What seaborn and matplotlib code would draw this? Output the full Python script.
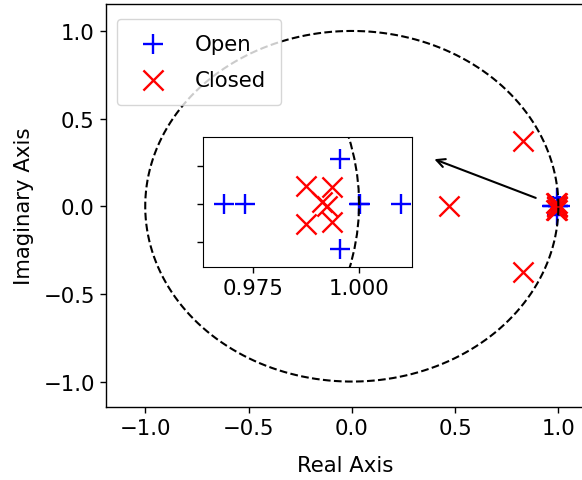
import numpy as np
import pandas as pd
import matplotlib
matplotlib.use("Agg")
import matplotlib.pyplot as plt
import seaborn as sns

# Open-loop poles (blue +)
open_re = [0.9681, 0.9730, 0.9955, 0.9955, 1.0000, 1.0003, 1.0099]
open_im = [0.0, 0.0, 0.0475, -0.0475, 0.0, 0.0, 0.0]
# Closed-loop poles (red x)
closed_re = [0.9875, 0.9935, 0.9912, 0.9925, 0.9875, 0.9935, 0.828, 0.828, 0.471]
closed_im = [0.0191, 0.0174, 0.0024, -0.0024, -0.0209, -0.0191, 0.374, -0.376, 0.0]

xticks = [-1.0, -0.5, 0.0, 0.5, 1.0]
yticks = [-1.0, -0.5, 0.0, 0.5, 1.0]
inset_xticks = [0.975, 1.000]
inset_yticks = [-0.04, 0.0, 0.04]

sns.set_style("white")
plt.rcParams['font.family'] = ['DejaVu Sans']
plt.rcParams['axes.edgecolor'] = 'black'
plt.rcParams['text.color'] = 'black'
plt.rcParams['axes.labelcolor'] = 'black'
plt.rcParams['xtick.bottom'] = True
plt.rcParams['ytick.left'] = True

FS = 15.3

df_open = pd.DataFrame({"re": open_re, "im": open_im})
df_closed = pd.DataFrame({"re": closed_re, "im": closed_im})
theta = np.linspace(0, 2 * np.pi, 400)
df_circ = pd.DataFrame({"x": np.cos(theta), "y": np.sin(theta)})

fig = plt.figure(figsize=(5.82, 4.81), dpi=100)
# axes extends slightly beyond right edge of the figure (as in reference)
ax = fig.add_axes([0.1821, 0.1518, 0.8213, 0.8368])

def draw(a, lw=1.5):
    sns.lineplot(data=df_circ, x="x", y="y", sort=False, estimator=None,
                 color="black", linestyle="--", linewidth=lw, ax=a)
    sns.scatterplot(data=df_open, x="re", y="im", marker="+", s=210,
                    color="blue", linewidth=1.7, ax=a, label="Open")
    sns.scatterplot(data=df_closed, x="re", y="im", marker="x", s=210,
                    color="red", linewidth=1.7, ax=a, label="Closed")

draw(ax)
ax.set_xlim(-1.19, 1.124)
ax.set_ylim(-1.145, 1.151)
ax.set_xticks(xticks)
ax.set_yticks(yticks)
ax.tick_params(labelsize=FS, length=4.5, width=1, colors='black')
ax.set_xlabel("Real Axis", fontsize=FS, labelpad=12, color='black')
ax.set_ylabel("Imaginary Axis", fontsize=FS, labelpad=7, color='black')
for s in ax.spines.values():
    s.set_linewidth(1.0)
leg = ax.legend(loc="upper left", fontsize=FS, markerscale=1.0,
                borderpad=0.7, handletextpad=1.0, labelspacing=0.75,
                handlelength=2.0, bbox_to_anchor=(0.0, 0.99))
for t in leg.get_texts():
    t.set_color('black')

ax.annotate("", xy=(0.387, 0.274), xytext=(0.903, 0.042),
            arrowprops=dict(arrowstyle="->", color="black", lw=1.5,
                            mutation_scale=15))

axin = fig.add_axes([0.3488, 0.4428, 0.3591, 0.2703])
draw(axin)
if axin.legend_:
    axin.legend_.remove()
axin.set_xlim(0.9631, 1.0125)
axin.set_ylim(-0.066, 0.070)
axin.set_xticks(inset_xticks)
axin.set_xticklabels([f"{v:.3f}" for v in inset_xticks])
axin.set_yticks(inset_yticks)
axin.set_yticklabels([])
axin.set_xlabel("")
axin.set_ylabel("")
axin.tick_params(labelsize=FS, length=4.5, width=1, colors='black')

fig.savefig("out.png", dpi=100)
